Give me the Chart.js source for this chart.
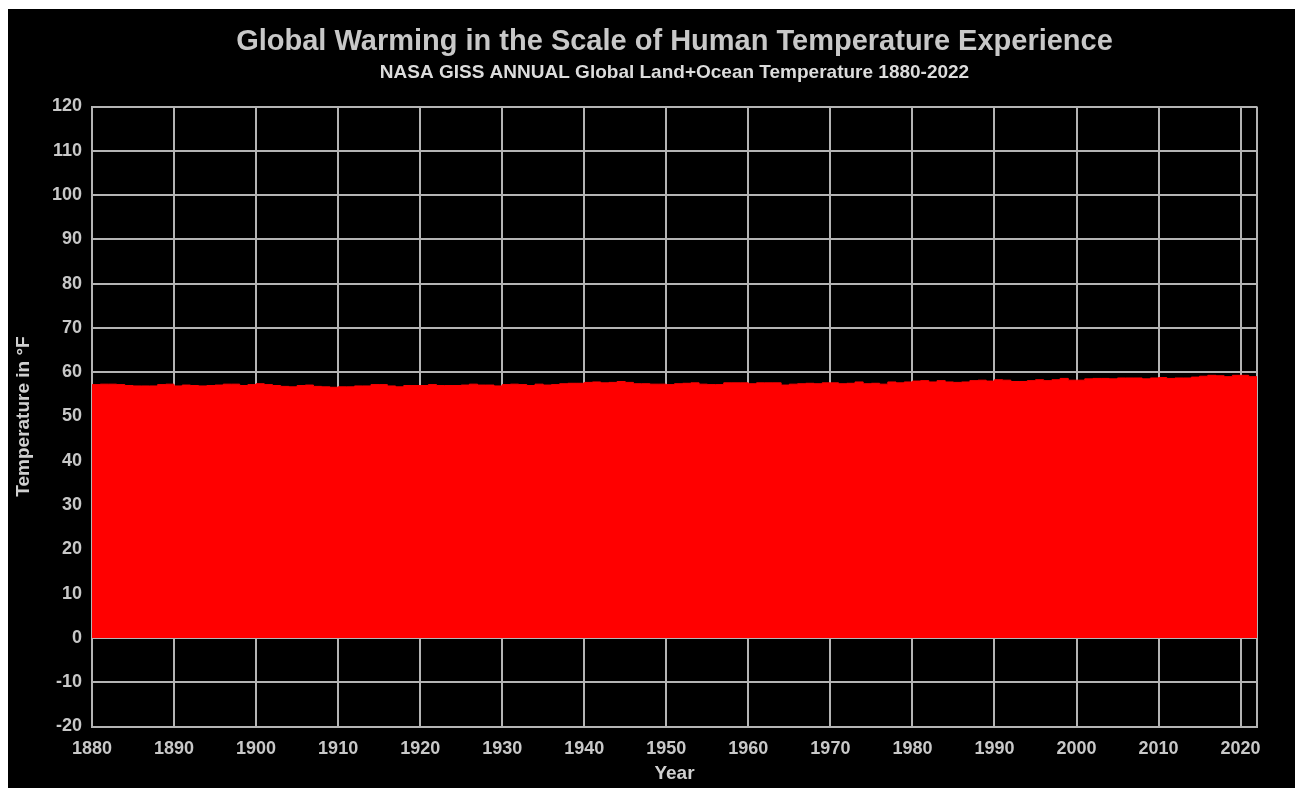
<!DOCTYPE html>
<html>
<head>
<meta charset="utf-8">
<title>Global Warming in the Scale of Human Temperature Experience</title>
<script src="https://cdn.jsdelivr.net/npm/chart.js@4/dist/chart.umd.min.js"></script>
<style>
    body { margin: 0; background: #ffffff; }
    #frame { position: absolute; left: 8px; top: 9px; width: 1287px; height: 779px; background: #000000; }
</style>
</head>
<body>
<div id="frame"><canvas id="chart" width="1287" height="779"></canvas></div>
<script>
// annual global land+ocean temperature in °F, 1880-2022
const temps = [
    57.2, 57.3, 57.3, 57.2, 57.0, 56.9, 56.9, 56.9, 57.2, 57.3,   // 1880s
    56.9, 57.1, 57.0, 56.9, 57.0, 57.1, 57.3, 57.3, 57.0, 57.2,   // 1890s
    57.4, 57.2, 57.0, 56.8, 56.7, 57.0, 57.1, 56.8, 56.7, 56.6,   // 1900s
    56.7, 56.7, 56.9, 56.9, 57.2, 57.2, 56.9, 56.7, 57.0, 57.0,   // 1910s
    57.0, 57.2, 57.0, 57.0, 57.0, 57.1, 57.3, 57.1, 57.1, 56.9,   // 1920s
    57.2, 57.3, 57.2, 57.0, 57.3, 57.1, 57.2, 57.4, 57.5, 57.5,   // 1930s
    57.7, 57.8, 57.6, 57.7, 57.9, 57.7, 57.4, 57.4, 57.3, 57.3,   // 1940s
    57.2, 57.4, 57.5, 57.6, 57.3, 57.2, 57.2, 57.6, 57.6, 57.6,   // 1950s
    57.4, 57.6, 57.6, 57.6, 57.1, 57.3, 57.4, 57.5, 57.4, 57.6,   // 1960s
    57.6, 57.4, 57.5, 57.8, 57.4, 57.5, 57.3, 57.8, 57.6, 57.8,   // 1970s
    58.0, 58.1, 57.8, 58.1, 57.8, 57.7, 57.8, 58.1, 58.2, 58.0,   // 1980s
    58.3, 58.2, 57.9, 57.9, 58.1, 58.3, 58.1, 58.3, 58.6, 58.2,   // 1990s
    58.2, 58.5, 58.6, 58.6, 58.5, 58.7, 58.7, 58.7, 58.5, 58.7,   // 2000s
    58.8, 58.6, 58.7, 58.7, 58.9, 59.1, 59.3, 59.2, 59.0, 59.3,   // 2010s
    59.3, 59.0, 59.1                                              // 2020-2022
];
const firstYear = 1880;
const years = temps.map((_, i) => firstYear + i);

const xTickLabels = [1880, 1890, 1900, 1910, 1920, 1930, 1940, 1950, 1960, 1970, 1980, 1990, 2000, 2010, 2020];
const yTickLabels = [-20, -10, 0, 10, 20, 30, 40, 50, 60, 70, 80, 90, 100, 110, 120];

const titleText = 'Global Warming in the Scale of Human Temperature Experience';
const subtitleText = 'NASA GISS ANNUAL Global Land+Ocean Temperature 1880-2022';

const points = years.map((y, i) => ({ x: y, y: temps[i] }));
const lastYear = years[years.length - 1];
const fontFamily = "'Liberation Sans', Arial, sans-serif";
const gridColor = '#b4b4b4';

new Chart(document.getElementById('chart'), {
    type: 'line',
    data: {
        datasets: [{
            label: 'Temperature',
            data: points,
            stepped: true,
            fill: 'origin',
            backgroundColor: '#ff0000',
            borderColor: '#ff0000',
            borderWidth: 1,
            pointRadius: 0
        }]
    },
    options: {
        responsive: false,
        animation: false,
        devicePixelRatio: 1,
        layout: { padding: { left: 0, right: 38, top: 0, bottom: 0 } },
        plugins: {
            legend: { display: false },
            tooltip: { enabled: false },
            title: {
                display: true,
                text: titleText,
                fullSize: false,
                color: '#c8c8c8',
                font: { family: fontFamily, size: 29, weight: 'bold' },
                padding: { top: 15.6, bottom: 0 }
            },
            subtitle: {
                display: true,
                text: subtitleText,
                fullSize: false,
                color: '#dcdcdc',
                font: { family: fontFamily, size: 19, weight: 'bold' },
                padding: { top: 2.2, bottom: 22.1 }
            }
        },
        scales: {
            x: {
                type: 'linear',
                min: firstYear,
                max: lastYear,
                afterFit: axis => { axis.height = 61.5; },
                // decade ticks plus the right edge, so the frame closes at 2022
                afterBuildTicks: axis => {
                    axis.ticks = [...xTickLabels, lastYear].map(v => ({ value: v }));
                },
                grid: { color: gridColor, lineWidth: 2, drawTicks: false },
                border: { color: gridColor, width: 2 },
                ticks: {
                    autoSkip: false,
                    maxRotation: 0,
                    padding: 12,
                    color: '#c8c8c8',
                    font: { family: fontFamily, size: 18, weight: 'bold' },
                    callback: v => xTickLabels.includes(v) ? String(v) : ''
                },
                title: {
                    display: true,
                    text: 'Year',
                    color: '#d0d0d0',
                    font: { family: fontFamily, size: 19, weight: 'bold' },
                    padding: { top: 0, bottom: 3 }
                }
            },
            y: {
                min: yTickLabels[0],
                max: yTickLabels[yTickLabels.length - 1],
                afterFit: axis => { axis.width = 84; },
                grid: { color: gridColor, lineWidth: 2, drawTicks: false },
                border: { color: gridColor, width: 2 },
                ticks: {
                    stepSize: 10,
                    padding: 10,
                    color: '#c8c8c8',
                    font: { family: fontFamily, size: 18, weight: 'bold' },
                    callback: v => yTickLabels.includes(v) ? String(v) : ''
                },
                title: {
                    display: true,
                    text: 'Temperature in °F',
                    color: '#d0d0d0',
                    font: { family: fontFamily, size: 19, weight: 'bold' },
                    padding: { top: 4, bottom: 0 }
                }
            }
        }
    }
});
</script>
</body>
</html>
